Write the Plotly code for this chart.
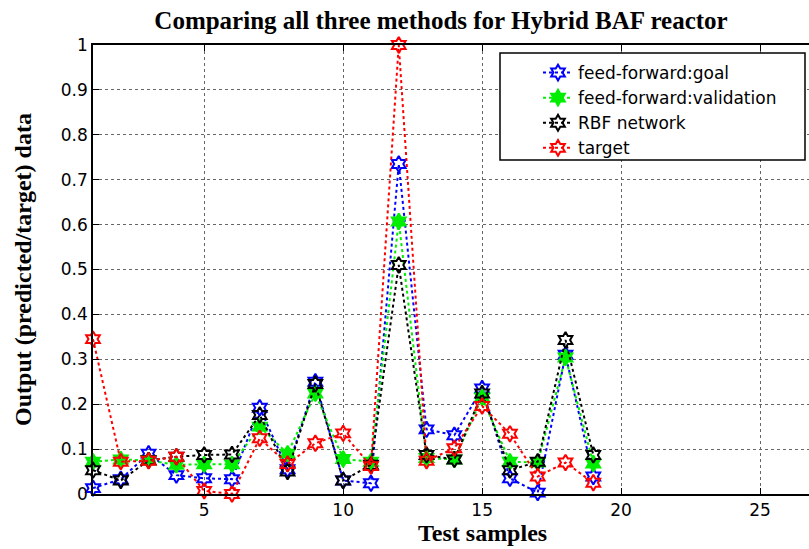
import plotly.graph_objects as go

samples = list(range(1, 20))
ff_goal = [0.013, 0.033, 0.090, 0.042, 0.035, 0.033, 0.192, 0.055, 0.250, 0.030,
           0.024, 0.735, 0.144, 0.131, 0.235, 0.035, 0.003, 0.310, 0.039]
ff_validation = [0.072, 0.077, 0.075, 0.065, 0.066, 0.066, 0.150, 0.090, 0.224, 0.078,
                 0.072, 0.607, 0.080, 0.077, 0.215, 0.072, 0.070, 0.304, 0.068]
rbf_network = [0.053, 0.030, 0.075, 0.083, 0.087, 0.088, 0.176, 0.050, 0.245, 0.030,
               0.065, 0.510, 0.087, 0.077, 0.224, 0.053, 0.072, 0.343, 0.087]
target = [0.345, 0.072, 0.074, 0.083, 0.007, 0.000, 0.124, 0.067, 0.113, 0.135,
          0.062, 1.000, 0.074, 0.102, 0.196, 0.134, 0.039, 0.070, 0.025]

names = ["feed-forward:goal", "feed-forward:validation", "RBF network", "target"]
series = [ff_goal, ff_validation, rbf_network, target]
colors = ["#0000ff", "#00ee00", "#000000", "#ff0000"]
symbols = ["hexagram-open", "hexagram", "hexagram-open", "hexagram-open"]

W, H = 809, 549
L, R, T, B = 93, 0, 45, 55
PW, PH = W - L - R, H - T - B


def px(xp):
    return (xp - L) / PW


def py(yp):
    return (H - B - yp) / PH


fig = go.Figure()
for name, vals, col, sym in zip(names, series, colors, symbols):
    fig.add_trace(go.Scatter(
        x=samples, y=vals, name=name, mode="lines+markers",
        line=dict(color=col, width=2, dash="dot"),
        marker=dict(symbol=sym, size=12, color=col, line=dict(color=col, width=2)),
        cliponaxis=False,
    ))

fig.add_shape(type="rect", xref="paper", yref="paper",
              x0=px(500), x1=px(805), y0=py(160), y1=py(53),
              line=dict(color="black", width=1.5), fillcolor="white", layer="above")

fig.add_annotation(text="<b>Test samples</b>", xref="paper", yref="paper",
                   x=px(482), y=py(533), xanchor="center", yanchor="middle",
                   showarrow=False,
                   font=dict(family="Liberation Serif", size=24, color="black"))

fig.update_layout(
    width=W, height=H,
    margin=dict(l=L, r=R, t=T, b=B),
    paper_bgcolor="white", plot_bgcolor="white",
    title=dict(text="<b>Comparing all three methods for Hybrid BAF reactor</b>",
               x=441 / W, xanchor="center", y=1 - 20 / H, yanchor="middle",
               font=dict(family="Liberation Serif", size=25, color="black")),
    font=dict(family="DejaVu Sans", size=17, color="black"),
    legend=dict(x=px(538), y=py(55), xanchor="left", yanchor="top",
                borderwidth=0, bgcolor="rgba(0,0,0,0)",
                font=dict(family="DejaVu Sans", size=17, color="black")),
    showlegend=True,
)
fig.update_xaxes(
    range=[1, 26.76], tickvals=[5, 10, 15, 20, 25],
    showgrid=True, gridcolor="#666666", griddash="dot", gridwidth=1,
    showline=True, linecolor="black", linewidth=1.5, mirror="ticks",
    ticks="inside", ticklen=6, tickcolor="black", zeroline=False,
    automargin=False,
)
fig.update_yaxes(
    range=[0, 1], tickvals=[0, 0.1, 0.2, 0.3, 0.4, 0.5, 0.6, 0.7, 0.8, 0.9, 1],
    ticktext=["0", "0.1", "0.2", "0.3", "0.4", "0.5", "0.6", "0.7", "0.8", "0.9", "1"],
    showgrid=True, gridcolor="#666666", griddash="dot", gridwidth=1,
    showline=True, linecolor="black", linewidth=1.5,
    ticks="inside", ticklen=6, tickcolor="black", zeroline=False,
    automargin=False,
    title=dict(text="<b>Output (predicted/target) data</b>", standoff=22,
               font=dict(family="Liberation Serif", size=24, color="black")),
)

fig.write_html("out.html", config={"displayModeBar": False},
               post_script="document.body.style.margin='0';document.body.style.overflow='hidden';")
